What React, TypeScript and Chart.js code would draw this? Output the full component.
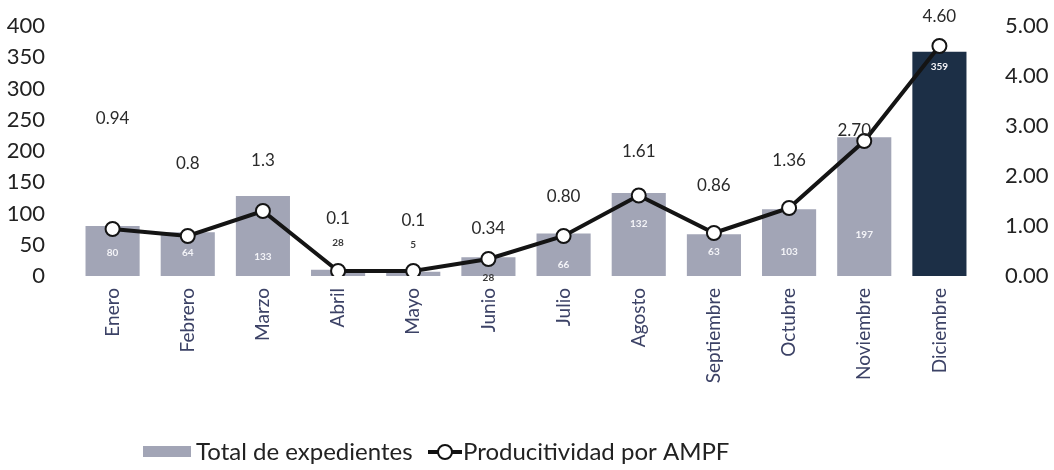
import React, { useEffect, useRef } from "react";
import { Chart, registerables } from "chart.js";

Chart.register(...registerables);

const months = ["Enero", "Febrero", "Marzo", "Abril", "Mayo", "Junio", "Julio", "Agosto", "Septiembre", "Octubre", "Noviembre", "Diciembre"];
// bar heights as drawn in the picture
const expedientes = [80, 70, 128, 10, 7, 30, 68, 133, 67, 107, 222, 359];
// numbers printed on the bars
const expedienteLabels = ["80", "64", "133", "28", "5", "28", "66", "132", "63", "103", "197", "359"];
const productividad = [0.94, 0.8, 1.3, 0.1, 0.1, 0.34, 0.8, 1.61, 0.86, 1.36, 2.7, 4.6];
const productividadLabels = ["0.94", "0.8", "1.3", "0.1", "0.1", "0.34", "0.80", "1.61", "0.86", "1.36", "2.70", "4.60"];
const leftTicks = [0, 50, 100, 150, 200, 250, 300, 350, 400];
const rightTicks = [0, 1, 2, 3, 4, 5];

const FONT = "Lato, 'Open Sans', sans-serif";
const BAR = "#a2a5b6";
const BAR_DARK = "#1c2f46";

// style: label placement (pixels) per category
const barLabelRise = [23, 23, 19, 33, 31, -2, 11, 52, 24, 24, 41, 209];
const barLabelLight = [true, true, true, false, false, false, true, true, true, true, true, true];
const lineLabelLift = [110, 72, 50, 52, 50, 30, 39, 44, 47, 47, 10, 29];
const lineLabelShift = [0, 0, 0, 0, 0, 0, 0, 0, 0, 0, -10, 0];

const labelsPlugin = {
  id: "customLabels",
  afterDatasetsDraw(chart: any) {
    const ctx = chart.ctx;
    const barMeta = chart.getDatasetMeta(0);
    const lineMeta = chart.getDatasetMeta(1);
    const base = chart.scales.y.getPixelForValue(0);
    ctx.save();
    ctx.textAlign = "center";
    ctx.textBaseline = "middle";
    barMeta.data.forEach((el: any, i: number) => {
      ctx.font = `bold 10px ${FONT}`;
      ctx.fillStyle = barLabelLight[i] ? "#f4f4f8" : "#3a3a3a";
      ctx.fillText(expedienteLabels[i], el.x, base - barLabelRise[i]);
    });
    lineMeta.data.forEach((el: any, i: number) => {
      ctx.font = `17px ${FONT}`;
      ctx.fillStyle = "#2a2a2a";
      ctx.fillText(productividadLabels[i], el.x + lineLabelShift[i], el.y - lineLabelLift[i]);
    });
    ctx.restore();
  },
  afterDraw(chart: any) {
    const ctx = chart.ctx;
    ctx.save();
    const y = 452;
    ctx.fillStyle = BAR;
    ctx.fillRect(143, y - 6, 48, 11);
    ctx.font = `24px ${FONT}`;
    ctx.fillStyle = "#222";
    ctx.textBaseline = "middle";
    ctx.textAlign = "left";
    ctx.fillText(chart.data.datasets[0].label, 196, y);
    ctx.strokeStyle = "#111";
    ctx.lineWidth = 4;
    ctx.beginPath();
    ctx.moveTo(428, y);
    ctx.lineTo(462, y);
    ctx.stroke();
    ctx.beginPath();
    ctx.arc(445, y, 7, 0, Math.PI * 2);
    ctx.fillStyle = "#fff";
    ctx.fill();
    ctx.lineWidth = 2;
    ctx.stroke();
    ctx.fillStyle = "#222";
    ctx.fillText(chart.data.datasets[1].label, 463, y);
    ctx.restore();
  },
};

export default function App() {
  const ref = useRef<HTMLCanvasElement>(null);
  useEffect(() => {
    if (!ref.current) return;
    const chart = new Chart(ref.current, {
      type: "bar",
      data: {
        labels: months,
        datasets: [
          {
            type: "bar",
            label: "Total de expedientes",
            data: expedientes,
            backgroundColor: months.map((_, i) => (i === months.length - 1 ? BAR_DARK : BAR)),
            barPercentage: 0.72,
            categoryPercentage: 1,
            yAxisID: "y",
            order: 1,
          },
          {
            type: "line",
            label: "Producitividad por AMPF",
            data: productividad,
            borderColor: "#141414",
            borderWidth: 4,
            pointRadius: 7,
            pointBorderWidth: 2,
            pointBackgroundColor: "#ffffff",
            pointBorderColor: "#141414",
            tension: 0,
            yAxisID: "y2",
            order: 0,
          } as any,
        ],
      },
      options: {
        animation: false,
        responsive: false,
        maintainAspectRatio: false,
        layout: { padding: { top: 26, bottom: 0, left: 0, right: 0 } },
        plugins: { legend: { display: false }, tooltip: { enabled: false } },
        scales: {
          x: {
            grid: { display: false },
            border: { display: false },
            ticks: {
              maxRotation: 90,
              minRotation: 90,
              padding: 4,
              color: "#3c4266",
              font: { family: FONT, size: 19 },
            },
            afterFit(scale: any) {
              scale.height = 194;
            },
          },
          y: {
            position: "left",
            min: 0,
            max: 400,
            afterBuildTicks(scale: any) {
              scale.ticks = leftTicks.map((v) => ({ value: v }));
            },
            grid: { display: false },
            border: { display: false },
            ticks: { padding: 22, color: "#222", font: { family: FONT, size: 22 } },
            afterFit(scale: any) {
              scale.width = 75;
              scale.paddingTop = 0;
              scale.paddingBottom = 0;
            },
          },
          y2: {
            position: "right",
            min: 0,
            max: 5,
            afterBuildTicks(scale: any) {
              scale.ticks = rightTicks.map((v) => ({ value: v }));
            },
            grid: { display: false },
            border: { display: false },
            ticks: {
              padding: 20,
              color: "#222",
              font: { family: FONT, size: 22 },
              callback: (v: any) => Number(v).toFixed(2),
            },
            afterFit(scale: any) {
              scale.width = 77;
              scale.paddingTop = 0;
              scale.paddingBottom = 0;
            },
          },
        },
      },
      plugins: [labelsPlugin],
    });
    return () => chart.destroy();
  }, []);
  return (
    <div style={{ position: "fixed", left: 0, top: 0, width: 1054, height: 470, background: "#fff" }}>
      <canvas ref={ref} width={1054} height={470} style={{ width: 1054, height: 470 }} />
    </div>
  );
}
